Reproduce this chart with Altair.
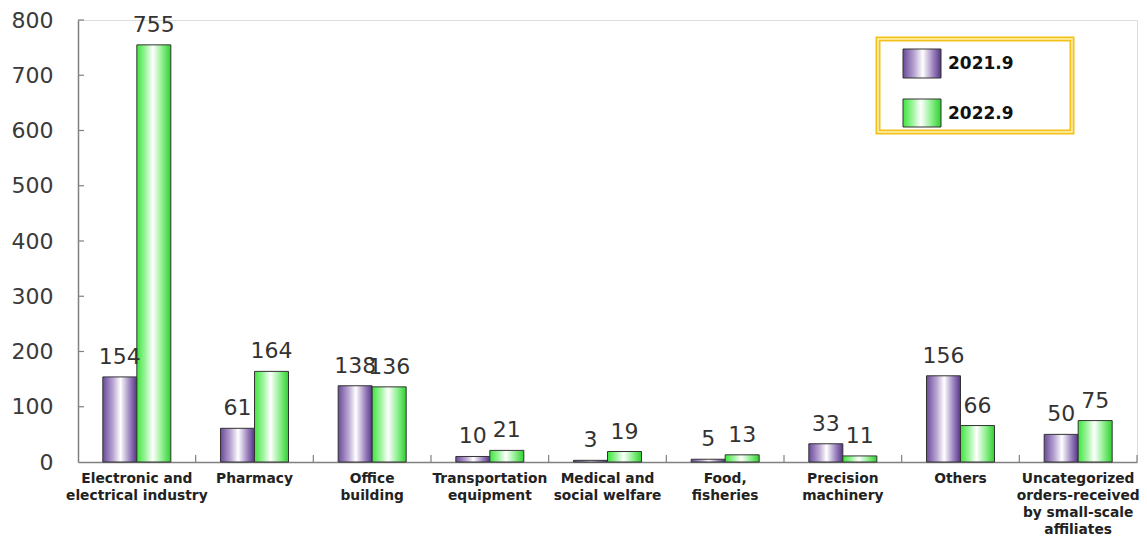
import altair as alt
import pandas as pd

categories = [
    "Electronic and\nelectrical industry",
    "Pharmacy",
    "Office\nbuilding",
    "Transportation\nequipment",
    "Medical and\nsocial welfare",
    "Food,\nfisheries",
    "Precision\nmachinery",
    "Others",
    "Uncategorized\norders-received\nby small-scale\naffiliates",
]
series = ["2021.9", "2022.9"]
v2021 = [154, 61, 138, 10, 3, 5, 33, 156, 50]
v2022 = [755, 164, 136, 21, 19, 13, 11, 66, 75]
y_ticks = [100, 200, 300, 400, 500, 600, 700, 800]

rows = []
for c, a, b in zip(categories, v2021, v2022):
    rows.append({"cat": c, "series": series[0], "value": a})
    rows.append({"cat": c, "series": series[1], "value": b})
df = pd.DataFrame(rows)

W, H = 1059, 442
FONT = "DejaVu Sans"

purple = alt.LinearGradient(
    gradient="linear", x1=0, x2=1, y1=0, y2=0,
    stops=[
        alt.GradientStop(color="#6a4a9a", offset=0),
        alt.GradientStop(color="#b9a6d2", offset=0.3),
        alt.GradientStop(color="#ffffff", offset=0.52),
        alt.GradientStop(color="#9a80bd", offset=0.8),
        alt.GradientStop(color="#553585", offset=1),
    ],
)
green = alt.LinearGradient(
    gradient="linear", x1=0, x2=1, y1=0, y2=0,
    stops=[
        alt.GradientStop(color="#3de63d", offset=0),
        alt.GradientStop(color="#a8f5a8", offset=0.28),
        alt.GradientStop(color="#ffffff", offset=0.47),
        alt.GradientStop(color="#8cef8c", offset=0.75),
        alt.GradientStop(color="#2fcf2f", offset=1),
    ],
)

x_enc = alt.X(
    "cat:N", sort=categories,
    scale=alt.Scale(paddingInner=0, paddingOuter=0),
    axis=alt.Axis(
        title=None, labelAngle=0, ticks=False, tickSize=0,
        labelExpr="split(datum.value, '\\n')",
        labelFont=FONT, labelFontWeight="bold", labelFontSize=13.8,
        labelColor="#222222", labelLineHeight=17, labelPadding=9,
        labelBaseline="top", labelLimit=0,
        domainColor="#808080", domainWidth=1.5,
    ),
)
xo_enc = alt.XOffset(
    "series:N", scale=alt.Scale(domain=series, paddingOuter=0.73, paddingInner=0)
)
y_enc = alt.Y(
    "value:Q",
    scale=alt.Scale(domain=[0, 800], nice=False),
    axis=alt.Axis(
        title=None, values=[0] + y_ticks, ticks=False, tickSize=0, grid=False,
        labelFont=FONT, labelFontSize=22, labelColor="#3a3a3a",
        labelPadding=25, domainColor="#808080", domainWidth=1.5,
    ),
)

base = alt.Chart(df)

bars1 = base.transform_filter(alt.datum.series == series[0]).mark_bar(
    fill=purple, stroke="#333333", strokeWidth=1
).encode(x=x_enc, xOffset=xo_enc, y=y_enc)

bars2 = base.transform_filter(alt.datum.series == series[1]).mark_bar(
    fill=green, stroke="#333333", strokeWidth=1
).encode(x=x_enc, xOffset=xo_enc, y=y_enc)

labels = base.mark_text(
    font=FONT, fontSize=22, color="#333333", baseline="alphabetic", dy=-13
).encode(x=x_enc, xOffset=xo_enc, y=y_enc, text="value:Q")

tick_df = pd.DataFrame({"value": y_ticks})
yticks = alt.Chart(tick_df).mark_rule(color="#808080", strokeWidth=1.2).encode(
    y=alt.Y("value:Q"), x=alt.value(0), x2=alt.value(6)
)

cat_df = pd.DataFrame({"cat": categories})
xticks = alt.Chart(cat_df).mark_rule(color="#808080", strokeWidth=1.2).encode(
    x=alt.X("cat:N", sort=categories, bandPosition=1),
    y=alt.value(H), y2=alt.value(H - 7),
)

one = pd.DataFrame({"k": [0]})
box_outer = alt.Chart(one).mark_rect(
    fill="#ffffff", stroke="#f2c21b", strokeWidth=5
).encode(x=alt.value(800), x2=alt.value(994), y=alt.value(19), y2=alt.value(112))
box_inner = alt.Chart(one).mark_rect(
    fill="transparent", stroke="#fff4b8", strokeWidth=1.5
).encode(x=alt.value(800), x2=alt.value(994), y=alt.value(19), y2=alt.value(112))

leg1 = alt.Chart(one).mark_rect(fill=purple, stroke="#333333", strokeWidth=1).encode(
    x=alt.value(825), x2=alt.value(863), y=alt.value(29), y2=alt.value(58)
)
leg2 = alt.Chart(one).mark_rect(fill=green, stroke="#333333", strokeWidth=1).encode(
    x=alt.value(825), x2=alt.value(863), y=alt.value(79), y2=alt.value(107)
)
leg_t1 = alt.Chart(one).mark_text(
    font=FONT, fontSize=17, fontWeight="bold", color="#111111", align="left", baseline="middle"
).encode(x=alt.value(870), y=alt.value(44), text=alt.value(series[0]))
leg_t2 = alt.Chart(one).mark_text(
    font=FONT, fontSize=17, fontWeight="bold", color="#111111", align="left", baseline="middle"
).encode(x=alt.value(870), y=alt.value(94), text=alt.value(series[1]))

chart = alt.layer(
    bars1, bars2, labels, yticks, xticks,
    box_outer, box_inner, leg1, leg2, leg_t1, leg_t2,
).properties(
    width=W, height=H,
    autosize=alt.AutoSizeParams(type="none"),
    padding={"left": 70, "top": 12, "right": 2, "bottom": 80},
).configure_view(stroke=None).configure(background="#ffffff")

chart.save("out.html", embed_options={"renderer": "svg", "actions": False})
